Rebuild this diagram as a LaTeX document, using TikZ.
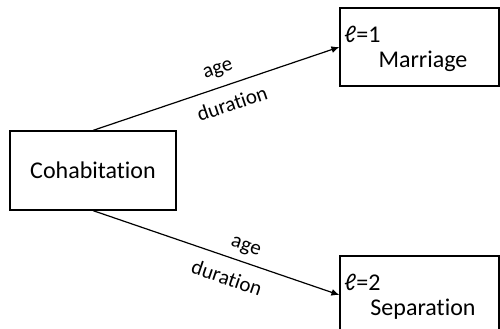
\documentclass[tikz,border=0pt]{standalone}
\usepackage{fontspec}
\setmainfont{Carlito}[Ligatures=NoCommon]
\usetikzlibrary{arrows.meta}

\tikzset{
	stbox/.style={draw, line width=0.6pt, minimum width=79.5pt, minimum height=39pt, inner sep=0pt},
	trans/.style={line width=0.6pt, -{Latex[length=4pt,width=3.5pt]}},
	lbl/.style={font=\fontsize{10.5}{11}\selectfont, sloped, inner sep=0pt},
	boxtxt/.style={font=\fontsize{12}{13}\selectfont, inner sep=0pt}
}

\begin{document}
\begin{tikzpicture}[x=0.5pt, y=-0.5pt]
		\useasboundingbox (0, 0) rectangle (500, 328);

		% states
		\node[stbox, minimum width=83pt, minimum height=39.5pt, boxtxt] (coh) at (93, 170.5) {Cohabitation};
		\node[stbox] (mar) at (419.5, 47) {};
		\node[stbox] (sep) at (419.5, 295) {};

		\node[boxtxt, anchor=west] (marl) at (344, 34) {ℓ=1};
		\node[boxtxt] (mart) at (423, 61) {Marriage};
		\node[boxtxt, anchor=west] (sepl) at (344, 282) {ℓ=2};
		\node[boxtxt] (sept) at (423, 309) {Separation};

		% transitions
		\draw[trans] (coh.north) -- (mar.west)
			node[lbl, pos=0.53, above=4.5pt] (agem) {age}
			node[lbl, pos=0.54, below=5.5pt] (durm) {duration};
		\draw[trans] (coh.south) -- (sep.west)
			node[lbl, pos=0.6, above=3.5pt] (ages) {age}
			node[lbl, pos=0.57, below=6pt] (durs) {duration};
	\end{tikzpicture}
\end{document}
